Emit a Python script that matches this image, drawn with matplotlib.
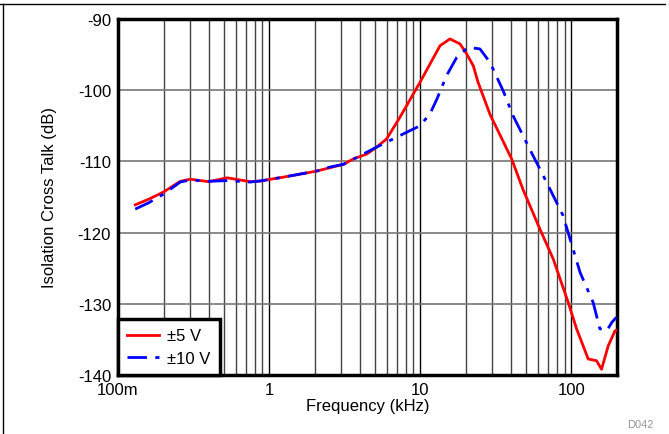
import numpy as np
import matplotlib.pyplot as plt
from matplotlib.lines import Line2D
from matplotlib.ticker import FixedLocator, NullFormatter

plt.rcParams['font.family'] = ['Liberation Sans', 'DejaVu Sans']
plt.rcParams['axes.unicode_minus'] = False

# frequency in kHz, crosstalk in dB
freq_5v = [0.130, 0.16, 0.2, 0.258, 0.301, 0.398, 0.526, 0.75, 0.873, 1.25, 2.07,
           3.11, 3.6, 4.43, 5.13, 5.98, 7.33, 9.94, 13.5, 15.7, 18.3, 20.0, 22.4, 24.1,
           28.9, 40.2, 47.9, 61.8, 75.7, 95.1, 108, 129, 146.5, 158, 175, 194, 200]
xtalk_5v = [-116.1, -115.3, -114.3, -112.8, -112.5, -112.85, -112.3, -112.85, -112.75,
            -112.2, -111.35, -110.4, -109.66, -108.96, -108.0, -106.85, -103.8, -98.9,
            -93.75, -92.8, -93.5, -94.7, -96.56, -98.9, -103.4, -109.66, -114.0, -119.5,
            -123.7, -129.8, -133.5, -137.75, -138.0, -139.2, -135.9, -133.8, -133.7]

freq_10v = [0.130, 0.16, 0.2, 0.258, 0.301, 0.398, 0.526, 0.75, 0.873, 1.25, 2.07,
            2.52, 3.11, 3.6, 5.13, 7.7, 9.94, 11.6, 12.9, 14.9, 17.4, 20.7, 24.8,
            28.9, 35.3, 41.1, 55.7, 68.3, 87.9, 114, 139, 154, 171, 185, 198]
xtalk_10v = [-116.7, -115.8, -114.6, -112.9, -112.6, -112.8, -112.7, -112.9, -112.75,
             -112.2, -111.35, -110.8, -110.4, -109.7, -108.0, -106.15, -105.0, -103.3,
             -101.2, -97.96, -95.4, -93.98, -94.2, -96.1, -100.07, -103.6, -109.2,
             -112.9, -117.6, -125.6, -129.8, -133.5, -133.8, -132.6, -131.9]

xtick_vals = [0.1, 1, 10, 100]
xtick_labels = ['100m', '1', '10', '100']
ytick_vals = [-140, -130, -120, -110, -100, -90]

fig = plt.figure(figsize=(6.69, 4.35), dpi=100)
ax = fig.add_axes([118 / 669, 1 - 376 / 435, 499 / 669, 356 / 435])

ax.plot(freq_5v, xtalk_5v, color='#ff0000', lw=2, label='\u00b15 V', zorder=3)
ax.plot(freq_10v, xtalk_10v, color='#0000ff', lw=2, ls=(0, (7, 3, 1.5, 3)),
        label='\u00b110 V', zorder=3)

ax.set_xscale('log')
ax.set_xlim(0.1, 200)
ax.set_ylim(-140, -90)
ax.set_xticks(xtick_vals)
ax.set_xticklabels(xtick_labels)
minors = [m * d for d in [0.1, 1, 10, 100] for m in range(2, 10) if m * d < 200]
ax.xaxis.set_minor_locator(FixedLocator(minors))
ax.xaxis.set_minor_formatter(NullFormatter())
ax.set_yticks(ytick_vals)
ax.tick_params(which='both', length=0, labelsize=12, pad=5)

ax.grid(True, which='major', axis='x', color='black', lw=1)
ax.grid(True, which='minor', axis='x', color='#444444', lw=1)
ax.grid(True, which='major', axis='y', color='#777777', lw=1.2)
ax.set_axisbelow(True)
for s in ax.spines.values():
    s.set_linewidth(2.5)

ax.set_xlabel('Frequency (kHz)', fontsize=12, labelpad=1)
ax.set_ylabel('Isolation Cross Talk (dB)', fontsize=12, labelpad=15)

leg = ax.legend(loc='lower left', fontsize=12, fancybox=False, framealpha=1,
                edgecolor='black', borderaxespad=0, handlelength=1.9,
                handletextpad=0.5, borderpad=0.55, labelspacing=0.45)
leg.get_frame().set_linewidth(2.5)

fig.text(640 / 669, 1 - 425 / 435, 'D042', fontsize=8, color='#999999',
         ha='center', va='center')

# partial frame around the figure
fig.add_artist(Line2D([0, 665 / 669], [1 - 5 / 435, 1 - 5 / 435], color='black', lw=1))
fig.add_artist(Line2D([3 / 669, 3 / 669], [0, 1 - 5 / 435], color='black', lw=1))

fig.savefig('out.png', dpi=100)
